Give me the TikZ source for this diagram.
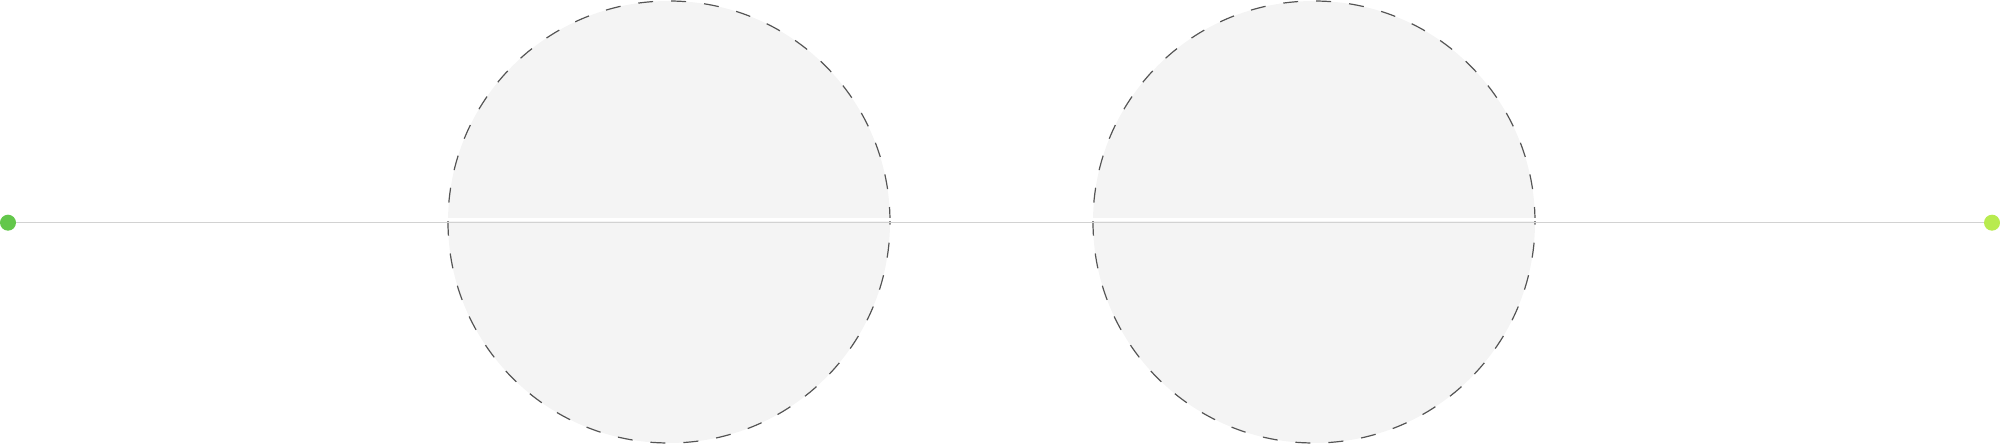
\documentclass[tikz,border=0pt]{standalone}
\definecolor{circfill}{HTML}{F4F4F4}
\definecolor{circline}{HTML}{555555}
\definecolor{axisgray}{HTML}{D2D2D2}
\definecolor{dotA}{HTML}{63C74B}
\definecolor{dotB}{HTML}{B8EB4F}
\tikzset{
  bigcirc/.style={circle, minimum size=442pt, inner sep=0pt, fill=circfill, draw=circline, line width=1.2pt, dash pattern=on 15pt off 18pt},
  enddot/.style={circle, minimum size=16pt, inner sep=0pt},
  axis/.style={draw=axisgray, line width=1.5pt},
  whiteband/.style={draw=white, line width=3pt}
}
\begin{document}
\begin{tikzpicture}[x=1pt,y=1pt]
\useasboundingbox (0,0) rectangle (2000,444);
\node[bigcirc] (c1) at (669,222) {};
\node[bigcirc] (c2) at (1314,222) {};
\node[enddot, fill=dotA] (d1) at (8,221.3) {};
\node[enddot, fill=dotB] (d2) at (1992,221.3) {};
\draw[whiteband] ([yshift=2.5pt]c1.west) -- ([yshift=2.5pt]c1.east);
\draw[whiteband] ([yshift=2.5pt]c2.west) -- ([yshift=2.5pt]c2.east);
\draw[axis] (d1) -- (d2);
\end{tikzpicture}
\end{document}
